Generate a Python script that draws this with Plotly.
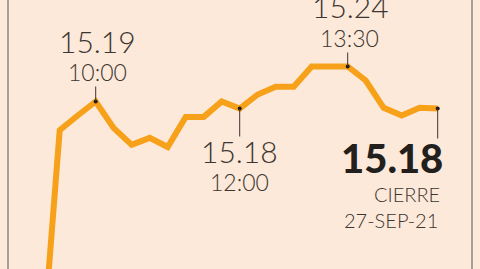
import plotly.graph_objects as go

day = "2021-09-27 "
times = ["09:15", "09:30", "09:45", "10:00", "10:15", "10:30", "10:45", "11:00",
         "11:15", "11:30", "11:45", "12:00", "12:15", "12:30", "12:45", "13:00",
         "13:15", "13:30", "13:45", "14:00", "14:15", "14:30", "14:45"]
values = [14.82, 15.149, 15.17, 15.19, 15.152, 15.128, 15.138, 15.125,
          15.168, 15.168, 15.19, 15.18, 15.20, 15.211, 15.211, 15.24,
          15.24, 15.24, 15.22, 15.181, 15.17, 15.181, 15.18]

x = [day + t for t in times]

BG = "#FCE9D9"
LINE = "#F7A11A"
TXT = "#3d3531"
FONT = "Lato"

fig = go.Figure()
fig.add_trace(go.Scatter(x=x, y=values, mode="lines",
                         line=dict(color=LINE, width=6), hoverinfo="skip"))

marks_t = ["10:00", "12:00", "13:30", "14:45"]
marks_v = [values[times.index(t)] for t in marks_t]
fig.add_trace(go.Scatter(x=[day + t for t in marks_t], y=marks_v, mode="markers",
                         marker=dict(color="#1f1a18", size=4), hoverinfo="skip"))

ann = []
shapes = []
def tick(t, v, d):
    shapes.append(dict(type="line", xref="x", yref="y", x0=day + t, x1=day + t,
                       ysizemode="pixel", yanchor=v, y0=0, y1=d,
                       line=dict(color=TXT, width=1)))

def label(t, v, text, shift, size, weight=300, color=TXT, xanchor="center", xshift=0):
    ann.append(dict(x=day + t, y=v, xref="x", yref="y", text=text, showarrow=False,
                    yshift=shift, xshift=xshift, xanchor=xanchor, yanchor="middle",
                    font=dict(family=FONT, size=size, color=color, weight=weight)))

# 10:00 high
v = marks_v[0]
tick("10:00", v, 15)
label("10:00", v, "15.19", 61, 30, xshift=2)
label("10:00", v, "10:00", 30, 23, xshift=2)
# 12:00
v = marks_v[1]
tick("12:00", v, -28)
label("12:00", v, "15.18", -42, 30)
label("12:00", v, "12:00", -73, 23)
# 13:30 high
v = marks_v[2]
tick("13:30", v, 14)
label("13:30", v, "15.24", 61, 30, xshift=3)
label("13:30", v, "13:30", 29, 23, xshift=2)
# close
v = marks_v[3]
tick("14:45", v, -30)
label("14:45", v, "15.18", -49, 40, weight=900, color="#231f1d", xanchor="right", xshift=7)
label("14:45", v, "CIERRE", -85, 20, xanchor="right", xshift=4)
label("14:45", v, "27-SEP-21", -111, 20, xanchor="right", xshift=2)

for px in [8 / 480, 472 / 480]:
    shapes.append(dict(type="line", xref="paper", yref="paper", x0=px, x1=px, y0=0, y1=1,
                       line=dict(color="#8c8580", width=1.5)))

fig.update_layout(
    width=480, height=269, margin=dict(l=0, r=0, t=0, b=0),
    paper_bgcolor=BG, plot_bgcolor=BG, showlegend=False,
    xaxis=dict(type="date", range=[day + "08:40:15", day + "15:20:15"], visible=False),
    yaxis=dict(range=[14.9507, 15.335], visible=False),
    annotations=ann, shapes=shapes,
)
fig.write_html("out.html")
